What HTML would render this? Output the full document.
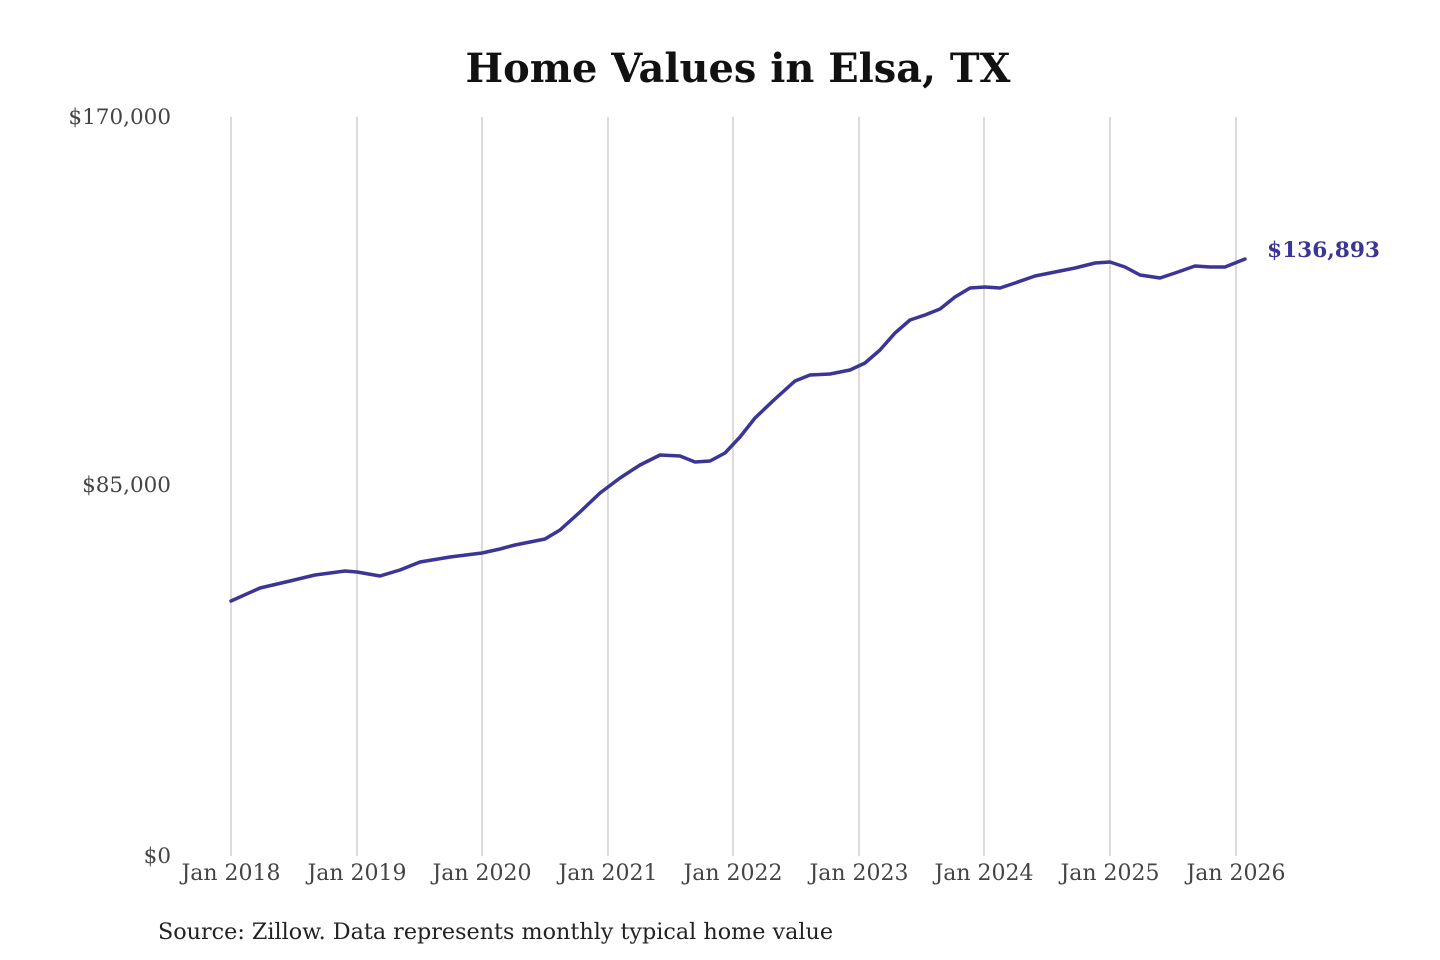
<!DOCTYPE html>
<html><head><meta charset="utf-8"><style>
html,body{margin:0;padding:0;background:#fff;}
svg{display:block;font-family:"DejaVu Serif","Liberation Serif",serif;}
</style></head><body>
<svg width="1440" height="960" viewBox="0 0 1440 960" xmlns="http://www.w3.org/2000/svg">
<rect width="1440" height="960" fill="#fff"/>
<text x="738" y="82" text-anchor="middle" font-size="40" font-weight="bold" fill="#111" textLength="545" lengthAdjust="spacingAndGlyphs">Home Values in Elsa, TX</text>
<g stroke="#c8c8c8" stroke-width="1.3">
<line x1="231" y1="117" x2="231" y2="856"/>
<line x1="357" y1="117" x2="357" y2="856"/>
<line x1="482" y1="117" x2="482" y2="856"/>
<line x1="608" y1="117" x2="608" y2="856"/>
<line x1="733" y1="117" x2="733" y2="856"/>
<line x1="859" y1="117" x2="859" y2="856"/>
<line x1="984" y1="117" x2="984" y2="856"/>
<line x1="1110" y1="117" x2="1110" y2="856"/>
<line x1="1236" y1="117" x2="1236" y2="856"/>
</g>
<g font-size="21.5" fill="#444" text-anchor="end">
<text x="171" y="124">$170,000</text>
<text x="171" y="492">$85,000</text>
<text x="171" y="863">$0</text>
</g>
<g font-size="22" fill="#444" text-anchor="middle">
<text x="231" y="880">Jan 2018</text>
<text x="357" y="880">Jan 2019</text>
<text x="482" y="880">Jan 2020</text>
<text x="608" y="880">Jan 2021</text>
<text x="733" y="880">Jan 2022</text>
<text x="859" y="880">Jan 2023</text>
<text x="984" y="880">Jan 2024</text>
<text x="1110" y="880">Jan 2025</text>
<text x="1236" y="880">Jan 2026</text>
</g>
<polyline fill="none" stroke="#3a3596" stroke-width="3.5" stroke-linejoin="round" stroke-linecap="round" points="231,601 260,588 290,581 315,575 345,571 357,572 380,576 400,570 420,562 450,557 482,553 500,549 515,545 545,539 560,530 580,512 600,493 620,478 640,465 660,455 680,456 695,462 710,461 725,453 740,437 755,418 775,399 795,381 810,375 830,374 850,370 865,363 880,350 895,333 910,320 925,315 940,309 955,297 970,288 985,287 1000,288 1015,283 1035,276 1055,272 1075,268 1095,263 1110,262 1125,267 1140,275 1160,278 1175,273 1195,266 1210,267 1225,267 1245,259"/>
<text x="1267" y="257" font-size="21.5" font-weight="bold" fill="#3a3596" textLength="113" lengthAdjust="spacingAndGlyphs">$136,893</text>
<text x="158" y="939" font-size="22" fill="#222" textLength="675" lengthAdjust="spacingAndGlyphs">Source: Zillow. Data represents monthly typical home value</text>
</svg>
</body></html>
